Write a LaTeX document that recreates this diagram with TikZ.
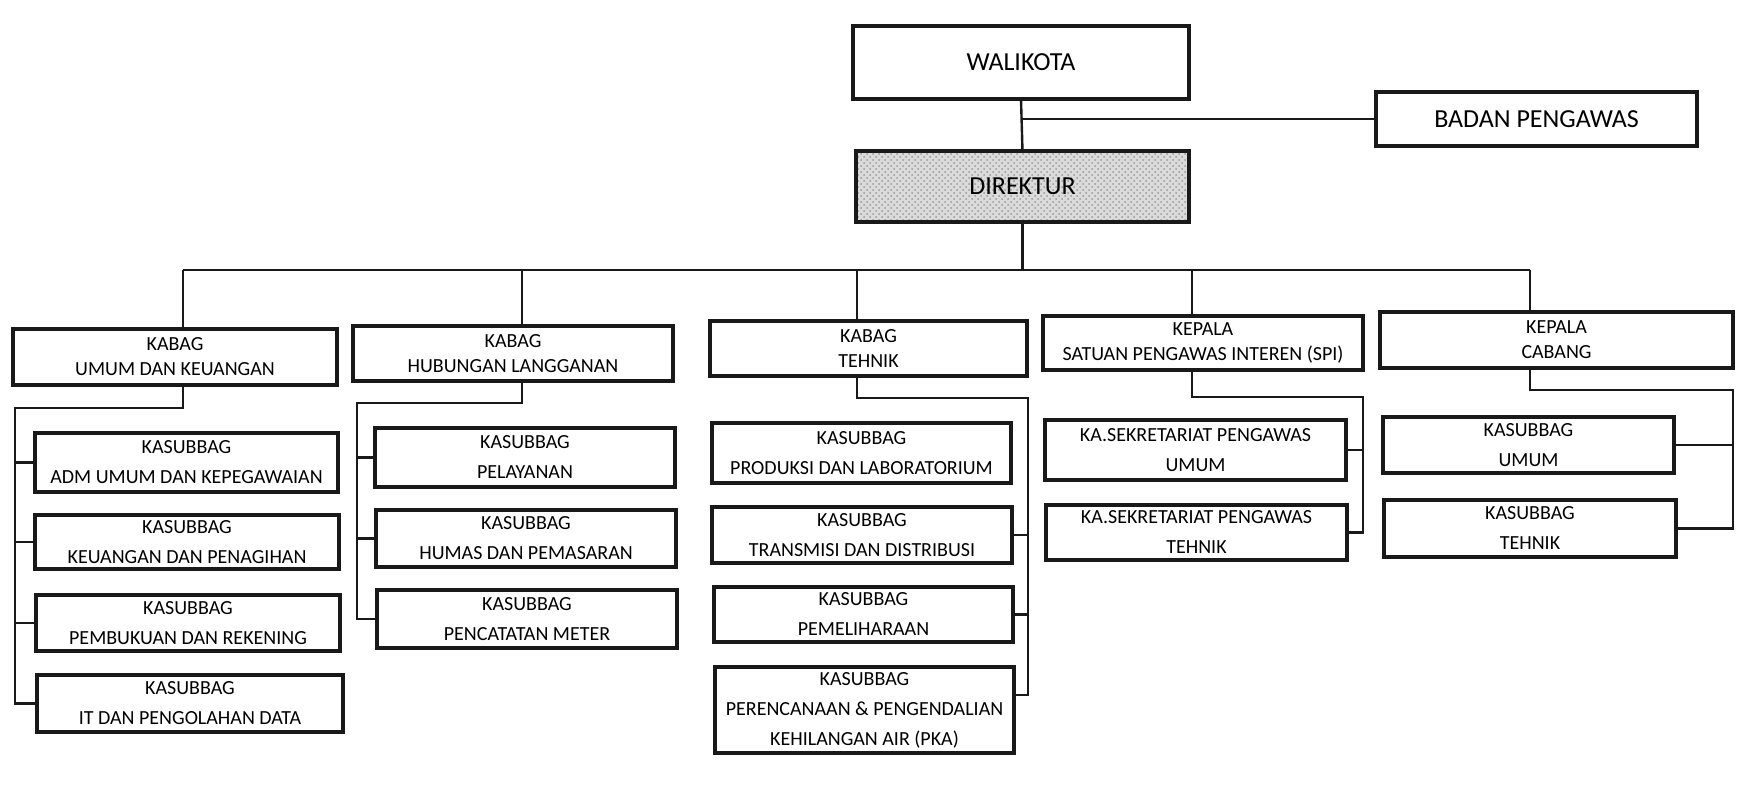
\documentclass[tikz,border=0pt]{standalone}
\usepackage{fontspec}
\setmainfont{Carlito}
\usetikzlibrary{patterns}
\begin{document}
\begin{tikzpicture}[x=0.5pt,y=-0.5pt,
  boxst/.style={draw=black!90, line width=1.7pt, fill=white, inner sep=0pt, outer sep=0pt, align=center, font=\fontsize{10}{15}\selectfont},
  kabst/.style={boxst, font=\fontsize{10}{12.5}\selectfont},
  topst/.style={boxst, font=\fontsize{13}{15}\selectfont},
  conn/.style={draw=black!90, line width=1.2pt}]
\useasboundingbox (0,0) rectangle (1756,787);
\fill[white] (0,0) rectangle (1756,787);
\newcommand\bx[7]{\node[#1, minimum width={(#5-#3)*0.5pt}, minimum height={(#6-#4)*0.5pt}] (#2) at ({(#3+#5)/2},{(#4+#6)/2}) {#7};}
% top
\bx{topst}{wal}{853}{26}{1189}{99}{WALIKOTA}
\bx{topst}{bad}{1376}{92}{1697}{146}{BADAN PENGAWAS}
\bx{topst}{dir}{856}{151}{1189}{222}{DIREKTUR}
\fill[gray!28] (dir.south west) rectangle (dir.north east);
\fill[pattern=crosshatch dots, pattern color=gray!80] (dir.south west) rectangle (dir.north east);
\node[font=\fontsize{13}{15}\selectfont] at (dir) {DIREKTUR};
\draw[line width=1.7pt, black!90] (dir.south west) rectangle (dir.north east);
% level 2
\bx{kabst}{k1}{13}{329}{337}{385}{KABAG\\UMUM DAN KEUANGAN}
\bx{kabst}{k2}{353}{326}{673}{381}{KABAG\\HUBUNGAN LANGGANAN}
\bx{kabst}{k3}{710}{321}{1027}{376}{KABAG\\TEHNIK}
\bx{kabst}{k4}{1043}{316}{1363}{370}{KEPALA\\SATUAN PENGAWAS INTEREN (SPI)}
\bx{kabst}{k5}{1380}{312}{1733}{368}{KEPALA\\CABANG}
% column 1
\bx{boxst}{s11}{35}{433}{338}{492}{KASUBBAG\\ADM UMUM DAN KEPEGAWAIAN}
\bx{boxst}{s12}{35}{515}{339}{569}{KASUBBAG\\KEUANGAN DAN PENAGIHAN}
\bx{boxst}{s13}{36}{595}{340}{651}{KASUBBAG\\PEMBUKUAN DAN REKENING}
\bx{boxst}{s14}{37}{675}{343}{732}{KASUBBAG\\IT DAN PENGOLAHAN DATA}
% column 2
\bx{boxst}{s21}{375}{428}{675}{487}{KASUBBAG\\PELAYANAN}
\bx{boxst}{s22}{376}{510}{676}{567}{KASUBBAG\\HUMAS DAN PEMASARAN}
\bx{boxst}{s23}{377}{590}{677}{648}{KASUBBAG\\PENCATATAN METER}
% column 3
\bx{boxst}{s31}{712}{423}{1011}{483}{KASUBBAG\\PRODUKSI DAN LABORATORIUM}
\bx{boxst}{s32}{712}{507}{1012}{563}{KASUBBAG\\TRANSMISI DAN DISTRIBUSI}
\bx{boxst}{s33}{714}{587}{1013}{642}{KASUBBAG\\PEMELIHARAAN}
\bx{boxst}{s34}{715}{667}{1014}{753}{KASUBBAG\\PERENCANAAN \& PENGENDALIAN\\KEHILANGAN AIR (PKA)}
% column 4
\bx{boxst}{s41}{1045}{420}{1346}{480}{KA.SEKRETARIAT PENGAWAS\\UMUM}
\bx{boxst}{s42}{1046}{505}{1347}{560}{KA.SEKRETARIAT PENGAWAS\\TEHNIK}
% column 5
\bx{boxst}{s51}{1383}{417}{1674}{473}{KASUBBAG\\UMUM}
\bx{boxst}{s52}{1384}{500}{1676}{557}{KASUBBAG\\TEHNIK}
% connectors top
\draw[conn] (wal.south) -- (dir.north);
\draw[conn] (wal.south |- bad.west) -- (bad.west);
\coordinate (b1) at (183,270);
\coordinate (b2) at (522,270);
\coordinate (b3) at (857,270);
\coordinate (b4) at (1192,270);
\coordinate (b5) at (1530,270);
\draw[conn] (dir.south) -- (dir.south |- b1);
\draw[conn] (b1) -- (b5);
\foreach \i in {1,...,5} {\draw[conn] (b\i) -- (b\i |- k\i.north);}
% column 1 connectors
\coordinate (c1) at (15,408);
\draw[conn] (b1 |- k1.south) |- (c1) -- (c1 |- s14.west) -- (s14.west);
\foreach \j in {1,2,3} {\draw[conn] (c1 |- s1\j.west) -- (s1\j.west);}
% column 2
\coordinate (c2) at (357,403);
\draw[conn] (b2 |- k2.south) |- (c2) -- (c2 |- s23.west) -- (s23.west);
\foreach \j in {1,2} {\draw[conn] (c2 |- s2\j.west) -- (s2\j.west);}
% column 3
\coordinate (c3) at (1028,398);
\coordinate (p34) at ([yshift=7.5pt]s34.east);
\draw[conn] (b3 |- k3.south) |- (c3) -- (c3 |- p34) -- (p34);
\foreach \j in {2,3} {\draw[conn] (c3 |- s3\j.east) -- (s3\j.east);}
% column 4
\coordinate (c4) at (1363,397);
\draw[conn] (b4 |- k4.south) |- (c4) -- (c4 |- s42.east) -- (s42.east);
\draw[conn] (c4 |- s41.east) -- (s41.east);
% column 5
\coordinate (c5) at (1733,390);
\draw[conn] (b5 |- k5.south) |- (c5) -- (c5 |- s52.east) -- (s52.east);
\draw[conn] (c5 |- s51.east) -- (s51.east);
\end{tikzpicture}
\end{document}
